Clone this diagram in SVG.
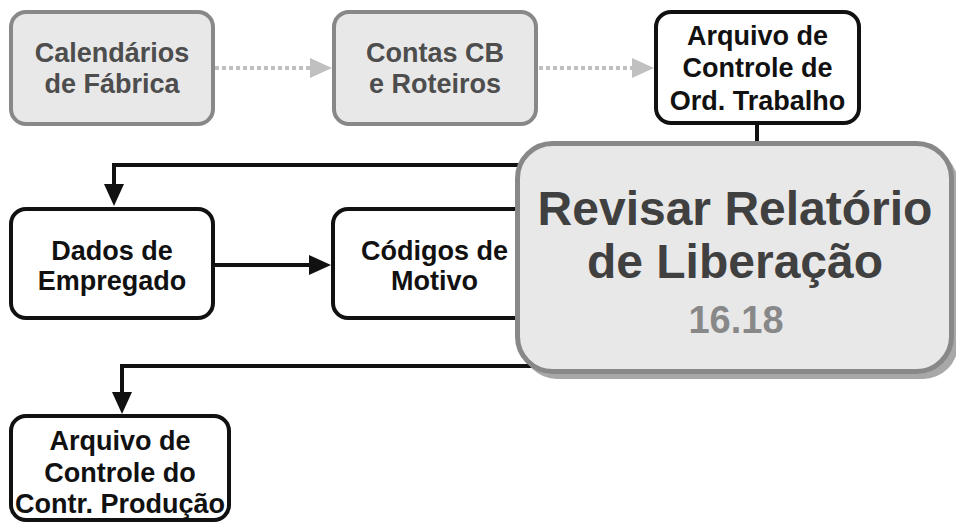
<svg xmlns="http://www.w3.org/2000/svg" width="956" height="524" viewBox="0 0 956 524">
<defs>
<style>
text{font-family:"Liberation Sans",Arial,sans-serif;font-weight:bold;text-anchor:middle}
.gbox{fill:#e8e8e8;stroke:#888;stroke-width:4}
.bbox{fill:#fff;stroke:#111;stroke-width:4}
.gt{font-size:27px;fill:#4d4d4d}
.bt{font-size:27px;fill:#111}
.conn{fill:none;stroke:#111;stroke-width:4}
.dot{fill:none;stroke:#c0c0c0;stroke-width:4;stroke-dasharray:4 3}
</style>
<marker id="ab" markerUnits="userSpaceOnUse" markerWidth="22" markerHeight="20" refX="8" refY="10" orient="auto">
<path d="M0,0 L22,10 L0,20 Z" fill="#111"/>
</marker>
<marker id="ag" markerUnits="userSpaceOnUse" markerWidth="22" markerHeight="20" refX="8" refY="10" orient="auto">
<path d="M0,0 L22,10 L0,20 Z" fill="#c0c0c0"/>
</marker>
</defs>
<g id="connectors">
<path class="dot" d="M215 68 H318" marker-end="url(#ag)"/>
<path class="dot" d="M539 68 H640" marker-end="url(#ag)"/>
<path class="conn" d="M757 123 V146"/>
<path class="conn" d="M540 165 H114 V192" marker-end="url(#ab)"/>
<path class="conn" d="M213 265 H317" marker-end="url(#ab)"/>
<path class="conn" d="M540 366 H122 V400" marker-end="url(#ab)"/>
</g>
<g id="calendarios">
<rect class="gbox" x="11" y="12" width="202" height="112" rx="15"/>
<text class="gt" x="112" y="62">Calendários</text>
<text class="gt" x="112" y="93">de Fábrica</text>
</g>
<g id="contas">
<rect class="gbox" x="334" y="12" width="202" height="112" rx="15"/>
<text class="gt" x="435" y="62">Contas CB</text>
<text class="gt" x="435" y="93">e Roteiros</text>
</g>
<g id="arquivo-ot">
<rect class="bbox" x="656" y="12" width="203" height="111" rx="15"/>
<text class="bt" x="757.5" y="45">Arquivo de</text>
<text class="bt" x="757.5" y="77">Controle de</text>
<text class="bt" x="757.5" y="110">Ord. Trabalho</text>
</g>
<g id="dados">
<rect class="bbox" x="11" y="209" width="202" height="109" rx="15"/>
<text class="bt" x="112" y="260">Dados de</text>
<text class="bt" x="112" y="290">Empregado</text>
</g>
<g id="codigos">
<rect class="bbox" x="333" y="209" width="203" height="109" rx="15"/>
<text class="bt" x="434.5" y="260">Códigos de</text>
<text class="bt" x="434.5" y="290">Motivo</text>
</g>
<g id="arquivo-cp">
<rect class="bbox" x="11" y="416" width="218" height="104" rx="15"/>
<text class="bt" x="120" y="450">Arquivo de</text>
<text class="bt" x="120" y="482">Controle do</text>
<text class="bt" x="120" y="513">Contr. Produção</text>
</g>
<g id="revisar">
<rect x="522" y="149" width="436" height="230" rx="35" fill="#a8a8a8"/>
<rect x="517.5" y="143.5" width="434" height="228" rx="35" fill="#e8e8e8" stroke="#888" stroke-width="5"/>
<text x="735" y="225" font-size="48" fill="#404040">Revisar Relatório</text>
<text x="735" y="278" font-size="48" fill="#404040">de Liberação</text>
<text x="736" y="333" font-size="38" fill="#888">16.18</text>
</g>
</svg>
